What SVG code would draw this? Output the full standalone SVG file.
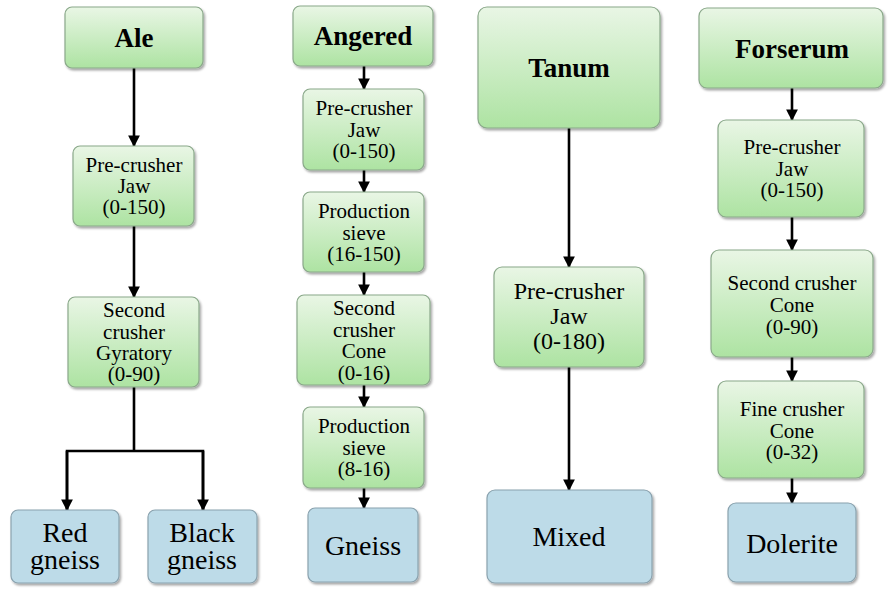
<svg xmlns="http://www.w3.org/2000/svg" width="893" height="593" viewBox="0 0 893 593" font-family="'Liberation Serif', 'Times New Roman', 'DejaVu Serif', serif">
<style>
text{font-family:'Liberation Serif','Times New Roman','DejaVu Serif',serif;fill:#000;text-anchor:middle}
.g{fill:url(#gg);stroke:#8aa88a;stroke-width:1.2;filter:url(#sh)}
.b{fill:#bddbe8;stroke:#8aa2ae;stroke-width:1.2;filter:url(#sh)}
.h{font-weight:bold;font-size:27px}
.s{font-size:21px}
.m{font-size:24px}
.l{font-size:28px}
.c{fill:none;stroke:#000;stroke-width:2.6}
</style>
<defs>
<linearGradient id="gg" x1="0" y1="0" x2="0" y2="1">
<stop offset="0" stop-color="#e9f6e5"/>
<stop offset="1" stop-color="#ade3a2"/>
</linearGradient>
<filter id="sh" x="-10%" y="-10%" width="125%" height="125%">
<feDropShadow dx="1.5" dy="2" stdDeviation="1.2" flood-color="#000" flood-opacity="0.35"/>
</filter>
<marker id="ar" viewBox="0 0 10 10" refX="9" refY="5" markerWidth="4.5" markerHeight="4.5" orient="auto" markerUnits="strokeWidth">
<path d="M0,0L10,5L0,10z" fill="#000"/>
</marker>
</defs>
<rect width="893" height="593" fill="#fff"/>
<g id="connectors">
<path class="c" d="M134,68V146" marker-end="url(#ar)"/>
<path class="c" d="M134,226V297" marker-end="url(#ar)"/>
<path class="c" d="M134,387V451M67,510V451H203V510"/>
<path class="c" d="M67,451V510" marker-end="url(#ar)"/>
<path class="c" d="M203,451V510" marker-end="url(#ar)"/>
<path class="c" d="M364,66V89" marker-end="url(#ar)"/>
<path class="c" d="M364,170V192" marker-end="url(#ar)"/>
<path class="c" d="M364,272V295" marker-end="url(#ar)"/>
<path class="c" d="M364,385V407" marker-end="url(#ar)"/>
<path class="c" d="M364,488V508" marker-end="url(#ar)"/>
<path class="c" d="M569,128V267" marker-end="url(#ar)"/>
<path class="c" d="M569,367V490" marker-end="url(#ar)"/>
<path class="c" d="M792,88V120" marker-end="url(#ar)"/>
<path class="c" d="M792,217V250" marker-end="url(#ar)"/>
<path class="c" d="M792,357V381" marker-end="url(#ar)"/>
<path class="c" d="M792,478V503" marker-end="url(#ar)"/>
</g>
<g id="ale"><rect class="g" x="65" y="7" width="138" height="61" rx="7"/><text class="h" x="134" y="47">Ale</text></g>
<g id="ale-pre"><rect class="g" x="73" y="146" width="121" height="80" rx="7"/><text class="s" x="134" y="172">Pre-crusher</text><text class="s" x="134" y="193">Jaw</text><text class="s" x="134" y="214">(0-150)</text></g>
<g id="ale-second"><rect class="g" x="68" y="297" width="131" height="90" rx="7"/><text class="s" x="134" y="317">Second</text><text class="s" x="134" y="339">crusher</text><text class="s" x="134" y="360">Gyratory</text><text class="s" x="134" y="381">(0-90)</text></g>
<g id="red-gneiss"><rect class="b" x="11" y="510" width="108" height="73" rx="7"/><text class="l" x="65" y="542">Red</text><text class="l" x="65" y="569">gneiss</text></g>
<g id="black-gneiss"><rect class="b" x="148" y="510" width="109" height="73" rx="7"/><text class="l" x="202" y="542">Black</text><text class="l" x="202" y="569">gneiss</text></g>
<g id="angered"><rect class="g" x="293" y="6" width="140" height="60" rx="7"/><text class="h" x="363" y="45">Angered</text></g>
<g id="ang-pre"><rect class="g" x="303" y="89" width="121" height="81" rx="7"/><text class="s" x="364" y="115">Pre-crusher</text><text class="s" x="364" y="137">Jaw</text><text class="s" x="364" y="158">(0-150)</text></g>
<g id="ang-sieve1"><rect class="g" x="303" y="192" width="121" height="80" rx="7"/><text class="s" x="364" y="218">Production</text><text class="s" x="364" y="240">sieve</text><text class="s" x="364" y="261">(16-150)</text></g>
<g id="ang-second"><rect class="g" x="297" y="295" width="133" height="90" rx="7"/><text class="s" x="364" y="315">Second</text><text class="s" x="364" y="337">crusher</text><text class="s" x="364" y="358">Cone</text><text class="s" x="364" y="380">(0-16)</text></g>
<g id="ang-sieve2"><rect class="g" x="303" y="407" width="121" height="81" rx="7"/><text class="s" x="364" y="433">Production</text><text class="s" x="364" y="455">sieve</text><text class="s" x="364" y="476">(8-16)</text></g>
<g id="gneiss"><rect class="b" x="308" y="508" width="110" height="74" rx="7"/><text class="l" x="363" y="555">Gneiss</text></g>
<g id="tanum"><rect class="g" x="478" y="7" width="182" height="121" rx="9"/><text class="h" x="569" y="77">Tanum</text></g>
<g id="tan-pre"><rect class="g" x="494" y="267" width="150" height="100" rx="8"/><text class="m" x="569" y="299">Pre-crusher</text><text class="m" x="569" y="324">Jaw</text><text class="m" x="569" y="349">(0-180)</text></g>
<g id="mixed"><rect class="b" x="487" y="490" width="165" height="93" rx="8"/><text class="l" x="569" y="546">Mixed</text></g>
<g id="forserum"><rect class="g" x="699" y="8" width="184" height="80" rx="8"/><text class="h" x="792" y="58">Forserum</text></g>
<g id="for-pre"><rect class="g" x="718" y="120" width="146" height="97" rx="8"/><text class="s" x="792" y="154">Pre-crusher</text><text class="s" x="792" y="176">Jaw</text><text class="s" x="792" y="197">(0-150)</text></g>
<g id="for-second"><rect class="g" x="711" y="250" width="162" height="107" rx="8"/><text class="s" x="792" y="290">Second crusher</text><text class="s" x="792" y="312">Cone</text><text class="s" x="792" y="334">(0-90)</text></g>
<g id="for-fine"><rect class="g" x="718" y="381" width="146" height="97" rx="8"/><text class="s" x="792" y="416">Fine crusher</text><text class="s" x="792" y="438">Cone</text><text class="s" x="792" y="459">(0-32)</text></g>
<g id="dolerite"><rect class="b" x="728" y="503" width="128" height="79" rx="8"/><text class="l" x="792" y="553">Dolerite</text></g>
</svg>
